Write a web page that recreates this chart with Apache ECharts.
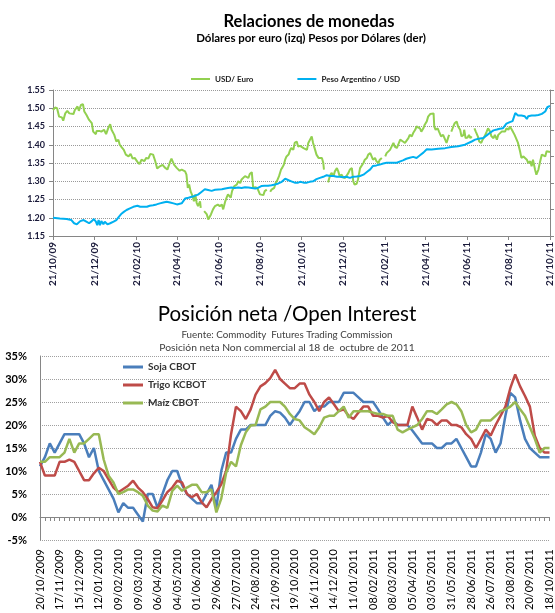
<!DOCTYPE html>
<html>
<head>
<meta charset="utf-8">
<script src="https://cdn.jsdelivr.net/npm/echarts@6/dist/echarts.min.js"></script>
<style>
  html, body { margin: 0; padding: 0; background: #fff; }
  #chart { width: 555px; height: 613px; }
</style>
</head>
<body>
<div id="chart"></div>
<script>
// Top chart: daily FX, sampled days counted from 21/10/2009 (null = gap in the series)
const euroDays = [0,3,6,9,13,15,18,21,24,26,30,32,36,38,41,44,46,49,53,57,59,63,64,68,71,75,78,81,84,86,90,93,96,98,101,104,107,111,114,117,120,124,127,130,134,137,140,143,147,150,153,157,161,164,168,172,174,178,182,186,189,194,196,198,200,202,205,207,209,211,213,216,217,219,222,226,228,232,235,238,242,245,248,250,253,255,257,261,263,266,270,272,275,277,279,282,284,287,289,292,294,297,300,304,306,309,311,314,316,319,321,325,327,330,332,335,337,339,341,343,346,348,350,353,355,358,360,363,365,368,370,373,375,377,380,382,385,387,390,392,395,397,398,401,404,407,409,412,414,417,419,421,424,426,429,431,434,436,439,441,443,446,448,451,453,456,458,461,463,466,468,470,473,475,478,480,483,485,488,490,492,495,497,500,502,505,507,510,512,514,517,519,522,524,527,529,532,534,536,539,541,544,546,549,551,554,556,559,560,562,565,567,570,572,573,576,578,581,582,583,585,588,590,593,595,598,600,603,604,606,609,611,613,615,617,619,621,624,626,629,631,632,634,637,639,642,644,647,649,652,654,656,659,661,664,666,669,671,674,676,678,681,683,686,688,691,693,696,698,701,703,705,708,710,713,715,718,720,723,725,727,730];
const usdEuro = [1.495,1.502,1.500,1.477,1.475,1.466,1.486,1.493,1.486,1.491,1.484,1.495,1.505,1.493,1.509,1.511,1.491,1.482,1.468,1.459,1.436,1.429,1.438,1.438,1.436,1.441,1.429,1.445,1.456,1.441,1.427,1.409,1.414,1.400,1.393,1.386,1.373,1.368,1.375,1.362,1.364,1.353,1.347,1.359,1.355,1.364,1.362,1.375,1.373,1.356,1.335,1.341,1.345,1.338,1.332,1.353,1.362,1.345,1.336,1.329,1.332,1.327,1.318,1.282,1.291,1.273,1.259,1.245,1.264,1.241,1.232,1.245,1.227,null,1.218,1.209,1.195,1.209,1.223,1.232,1.236,1.232,1.236,1.223,1.245,1.255,1.264,1.255,1.273,1.286,1.291,1.300,1.295,1.305,1.300,1.314,1.316,1.309,1.320,1.325,1.282,1.284,1.282,1.264,1.268,1.262,1.273,1.277,null,1.271,1.277,1.282,1.295,1.305,1.314,1.332,1.338,1.345,1.359,1.368,1.373,1.384,1.391,1.386,1.405,1.409,1.395,1.397,1.393,1.391,1.395,1.386,1.405,1.409,1.423,1.405,1.386,1.373,1.364,1.359,1.364,1.350,1.332,null,1.297,1.316,1.323,1.314,1.327,1.336,1.327,1.314,1.318,1.311,1.309,1.314,1.323,1.332,1.336,1.300,1.291,1.293,1.305,1.336,1.341,1.350,1.359,1.364,1.373,1.377,1.368,1.359,1.364,1.355,1.350,1.359,1.364,null,1.368,1.377,1.382,1.386,1.391,1.405,1.395,1.391,1.400,1.414,1.418,1.409,1.405,1.409,1.418,1.427,1.423,1.432,1.441,1.450,1.455,1.445,1.436,1.445,1.455,1.464,1.477,1.484,1.482,1.486,1.450,1.441,1.445,1.436,1.423,1.418,1.427,1.414,1.405,1.423,1.427,null,1.436,1.450,1.459,1.464,1.450,1.441,1.423,1.427,1.441,1.418,1.420,1.427,1.418,1.423,null,1.445,1.436,1.423,1.409,1.405,1.414,1.409,1.423,1.436,1.445,1.436,1.423,1.418,1.427,1.414,1.427,1.423,1.436,1.441,1.436,1.445,1.441,1.450,1.441,1.445,1.427,1.414,1.405,1.382,1.364,1.368,1.373,1.359,1.350,1.355,1.341,1.359,1.332,1.318,1.332,1.350,1.373,1.377,1.368,1.382,1.384,1.380];

const pesoDays = [0,10,20,27,31,35,40,45,49,53,57,60,63,65,67,69,71,74,76,80,84,89,93,97,101,104,108,113,118,124,128,133,138,142,147,152,157,162,167,172,177,182,189,194,199,204,208,213,218,223,228,233,238,243,248,253,257,262,267,272,277,282,287,292,297,301,306,311,316,321,326,331,336,341,346,350,355,360,363,368,373,377,382,387,392,397,402,407,412,417,421,426,431,436,441,446,451,456,461,466,470,475,480,485,490,495,500,505,510,514,519,524,529,534,539,544,549,556,566,576,585,595,605,615,620,625,632,637,642,647,652,656,661,666,671,675,677,679,683,688,693,696,698,703,708,713,718,723,726,730];
const pesoUsd = [3.769,3.766,3.764,3.760,3.748,3.744,3.756,3.760,3.754,3.748,3.756,3.764,3.754,3.741,3.760,3.741,3.756,3.744,3.754,3.744,3.748,3.754,3.760,3.773,3.785,3.791,3.798,3.804,3.810,3.814,3.810,3.810,3.810,3.814,3.816,3.819,3.823,3.826,3.829,3.826,3.823,3.819,3.823,3.841,3.844,3.848,3.851,3.856,3.866,3.876,3.873,3.870,3.874,3.875,3.876,3.879,3.881,3.883,3.881,3.883,3.881,3.884,3.883,3.881,3.879,3.881,3.888,3.889,3.889,3.891,3.894,3.898,3.904,3.916,3.910,3.906,3.901,3.901,3.904,3.901,3.901,3.904,3.906,3.914,3.919,3.923,3.929,3.926,3.926,3.923,3.923,3.921,3.923,3.919,3.923,3.924,3.926,3.931,3.941,3.951,3.964,3.966,3.969,3.973,3.976,3.976,3.976,3.976,3.981,3.985,3.991,3.995,3.998,3.994,4.004,4.014,4.027,4.026,4.029,4.031,4.035,4.038,4.044,4.056,4.063,4.066,4.069,4.079,4.089,4.098,4.101,4.104,4.106,4.123,4.129,4.133,4.148,4.163,4.154,4.154,4.151,4.141,4.151,4.154,4.154,4.156,4.160,4.169,4.185,4.190];

// Bottom chart: weekly net position / open interest (%), 20/10/2009 .. 18/10/2011
const sojaCbot = [11,13,16,14,16,18,18,18,18,16,13,15,10,8,6,4,1,3,2,2,0.5,-1,5,5,2,5,8,10,10,7,5,4,3,3,5,7,2,10,14,14,17,19,19,20,20,20,20,22,23,22.7,21.6,20,21.6,23,25,25,23,24,24,25,25,25,27,27,27,26,25,25,25,23.4,21.6,20,21,20,20,20,18.8,17.4,16,16,16,15,15,16,16,17,15,13,11,11,14,18,17,14,16,22,27,26,21,17,15,14,13,13,13];
const trigoKcbot = [12,9,9,9,12,12,12.5,12,10,8,8,9.5,10.7,10,8.2,6.4,5.4,6.1,6.8,7.9,6.4,5.4,3.9,2.1,1.9,3.6,5.4,6.4,7.9,7.5,5,4.3,5,3.2,2.1,3.9,5.4,7.1,10,18,24,23,21.3,23.4,26.6,28.4,29.1,30.2,32,30,29,28,28,29,29,26.6,25,23,25,26,24.5,23,23.4,22,21.3,22.7,24,24,22,22,21.6,22,20.6,20,20,20,24,21.6,19,21.3,21,20,21,21,20,20,19.5,18,17,15,17,19,17.7,20,22,24,28,31,28.4,26.3,24,17.7,15,14,14];
const maizCbot = [12,12,13,13,13,14,17,14,16,16,17,18,18,12.5,9,7.5,5,5.4,6,6,5.4,4.6,2.5,1.4,1.2,2.5,2,5.7,6.8,5.7,6.4,7,7,5.4,5.4,6,1,4,9.6,12,11,15.6,18.4,19.9,20,23.4,24,25,25,25,24,22.4,21.3,21,19.5,18.8,18,19.5,21.6,22,22,23,24,21.6,23,23,23,23,22.7,22.4,22.4,22,22,19,18.4,19,19.5,20,21.3,23,23,22.4,23.4,24.5,25,24.5,23,20,18.4,19,21,21,21,22,23,23.4,24,25,23.4,22,19.5,17,14,15,15];

const pad = n => (n < 10 ? '0' : '') + n;

// calendar days for the FX axis, labelled every 2 months on the 21st
const fxDates = [];
for (let i = 0; i <= 730; i++) {
  const d = new Date(Date.UTC(2009, 9, 21) + i * 86400000);
  fxDates.push(pad(d.getUTCDate()) + '/' + pad(d.getUTCMonth() + 1) + '/' + String(d.getUTCFullYear()).slice(2));
}
const fxLabelMonths = ['10', '12', '02', '04', '06', '08'];
const isFxTick = (idx, val) => val.slice(0, 2) === '21' && fxLabelMonths.indexOf(val.slice(3, 5)) >= 0;

// weekly dates for the COT axis
const weekDates = [];
for (let i = 0; i < sojaCbot.length; i++) {
  const d = new Date(Date.UTC(2009, 9, 20) + i * 7 * 86400000);
  weekDates.push(pad(d.getUTCDate()) + '/' + pad(d.getUTCMonth() + 1) + '/' + d.getUTCFullYear());
}

const pairs = (days, vals) => days.map((d, i) => [d, vals[i]]);

const font = 'Lato, "Open Sans", sans-serif';
const axisGrey = '#868686';

const chart = echarts.init(document.getElementById('chart'));
chart.setOption({
  animation: false,
  textStyle: { fontFamily: font },
  title: [
    { text: 'Relaciones de monedas', left: 304, top: 8, textAlign: 'center',
      textStyle: { fontSize: 16.5, fontWeight: 'bold', color: '#000', fontFamily: font } },
    { text: 'Dólares por euro (izq) Pesos por Dólares (der)', left: 306, top: 27, textAlign: 'center',
      textStyle: { fontSize: 11.5, fontWeight: 'bold', color: '#000', fontFamily: font } },
    { text: 'Posición neta /Open Interest', left: 282, top: 299, textAlign: 'center',
      textStyle: { fontSize: 20.5, fontWeight: 'normal', color: '#000', fontFamily: font } },
    { text: 'Fuente: Commodity  Futures Trading Commission', left: 282, top: 325, textAlign: 'center',
      textStyle: { fontSize: 9.8, fontWeight: 'normal', color: '#404040', fontFamily: font } },
    { text: 'Posición neta Non commercial al 18 de  octubre de 2011', left: 282, top: 338, textAlign: 'center',
      textStyle: { fontSize: 10.3, fontWeight: 'normal', color: '#404040', fontFamily: font } }
  ],
  legend: [
    { data: ['USD/ Euro', 'Peso Argentino / USD'], left: 186, top: 70, itemGap: 44,
      icon: 'rect', itemWidth: 19, itemHeight: 2,
      textStyle: { fontSize: 8, fontWeight: 'bold', color: '#222', fontFamily: font } },
    { data: ['Soja CBOT', 'Trigo KCBOT', 'Maíz CBOT'], orient: 'vertical', left: 118, top: 357, itemGap: 8,
      icon: 'rect', itemWidth: 20, itemHeight: 3,
      textStyle: { fontSize: 10, fontWeight: 'bold', color: '#333', fontFamily: font } }
  ],
  grid: [
    { left: 53, right: 4, top: 90, height: 146 },
    { left: 40, right: 5, top: 356, height: 185 }
  ],
  xAxis: [
    { gridIndex: 0, type: 'category', data: fxDates, boundaryGap: false,
      axisLine: { lineStyle: { color: axisGrey } },
      axisTick: { interval: isFxTick, length: 4, lineStyle: { color: axisGrey } },
      axisLabel: { interval: isFxTick, rotate: 90, fontSize: 10, fontWeight: 'bold', color: '#1a1a3a', margin: 6 } },
    { gridIndex: 1, type: 'category', data: weekDates, boundaryGap: false, position: 'bottom',
      axisLine: { onZero: true, lineStyle: { color: axisGrey } },
      axisTick: { interval: 0, length: 4, lineStyle: { color: axisGrey } },
      axisLabel: { show: false } },
    { gridIndex: 1, type: 'category', data: weekDates, boundaryGap: false, position: 'bottom',
      axisLine: { show: false, onZero: false },
      axisTick: { show: false },
      axisLabel: { interval: 3, rotate: 90, fontSize: 11, color: '#000', margin: 9 } }
  ],
  yAxis: [
    { gridIndex: 0, type: 'value', min: 1.15, max: 1.55, interval: 0.05,
      axisLine: { show: true, lineStyle: { color: axisGrey } },
      axisTick: { show: true, length: 4, lineStyle: { color: axisGrey } },
      axisLabel: { fontSize: 9, fontWeight: 'bold', color: '#1a1a3a', margin: 8, formatter: v => v.toFixed(2) },
      splitLine: { lineStyle: { type: 'dotted', color: '#999' } } },
    { gridIndex: 0, type: 'value', position: 'right', min: 3.7, max: 4.25, interval: 0.1,
      axisLine: { show: true, lineStyle: { color: axisGrey } },
      axisTick: { show: true, length: 4, lineStyle: { color: axisGrey } },
      axisLabel: { show: false },
      splitLine: { show: false } },
    { gridIndex: 1, type: 'value', min: -5, max: 35, interval: 5,
      axisLine: { show: true, lineStyle: { color: axisGrey } },
      axisTick: { show: false },
      axisLabel: { fontSize: 11, fontWeight: 'bold', color: '#000', margin: 13, formatter: v => v + '%' },
      splitLine: { lineStyle: { type: 'dotted', color: '#a0a0a0' } } }
  ],
  series: [
    { name: 'USD/ Euro', type: 'line', xAxisIndex: 0, yAxisIndex: 0, data: pairs(euroDays, usdEuro),
      symbol: 'none', connectNulls: false, color: '#92D050', lineStyle: { width: 2 } },
    { name: 'Peso Argentino / USD', type: 'line', xAxisIndex: 0, yAxisIndex: 1, data: pairs(pesoDays, pesoUsd),
      symbol: 'none', color: '#00B0F0', lineStyle: { width: 2 } },
    { name: 'Soja CBOT', type: 'line', xAxisIndex: 1, yAxisIndex: 2, data: sojaCbot,
      symbol: 'none', color: '#4A7EBB', lineStyle: { width: 2.5 } },
    { name: 'Trigo KCBOT', type: 'line', xAxisIndex: 1, yAxisIndex: 2, data: trigoKcbot,
      symbol: 'none', color: '#BE4B48', lineStyle: { width: 2.5 } },
    { name: 'Maíz CBOT', type: 'line', xAxisIndex: 1, yAxisIndex: 2, data: maizCbot,
      symbol: 'none', color: '#98B954', lineStyle: { width: 2.5 } }
  ]
});
</script>
</body>
</html>
